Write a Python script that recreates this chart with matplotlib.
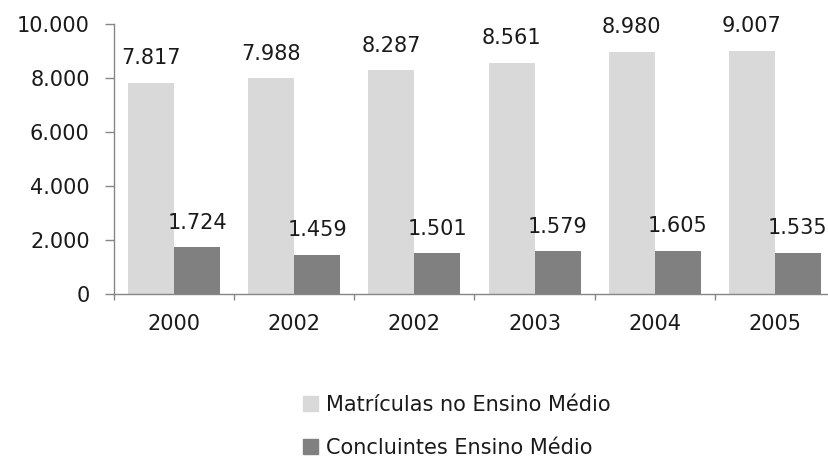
import matplotlib
matplotlib.use("Agg")
import matplotlib.pyplot as plt
import numpy as np
from matplotlib.patches import Patch

years = ["2000", "2002", "2002", "2003", "2004", "2005"]
matriculas = [7817, 7988, 8287, 8561, 8980, 9007]
concluintes = [1724, 1459, 1501, 1579, 1605, 1535]
series_names = ["Matrículas no Ensino Médio", "Concluintes Ensino Médio"]
y_ticks = [0, 2000, 4000, 6000, 8000, 10000]

LIGHT = "#D9D9D9"
DARK = "#808080"
AXIS = "#868686"
TEXT = "#1a1a1a"
FS = 15

def fmt(v):
    return f"{v:,}".replace(",", ".")

plt.rcParams["font.family"] = ["DejaVu Sans"]

W, H = 829, 459
fig = plt.figure(figsize=(W / 100, H / 100), dpi=100)
left, right, top, bottom = 114, 835, 24, 294
ax = fig.add_axes([left / W, (H - bottom) / H, (right - left) / W, (bottom - top) / H])

x = np.arange(len(years))
bw = 0.383
b1 = ax.bar(x - bw / 2, matriculas, bw, color=LIGHT)
b2 = ax.bar(x + bw / 2, concluintes, bw, color=DARK)

for bars, vals in ((b1, matriculas), (b2, concluintes)):
    for rect, v in zip(bars, vals):
        ax.annotate(fmt(v), (rect.get_x() + rect.get_width() / 2, v),
                    xytext=(0, 13.5), textcoords="offset points",
                    ha="center", va="baseline", fontsize=FS, color=TEXT)

ax.set_xlim(-0.5, len(years) - 0.5)
ax.set_ylim(0, 10000)
ax.set_yticks(y_ticks)
ax.set_yticklabels([fmt(v) for v in y_ticks])
ax.set_xticks(x)
ax.set_xticklabels(years)
ax.set_xticks(np.arange(-0.5, len(years) + 0.5, 1), minor=True)

for s in ("top", "right"):
    ax.spines[s].set_visible(False)
for s in ("left", "bottom"):
    ax.spines[s].set_color(AXIS)
    ax.spines[s].set_linewidth(1.0)

ax.tick_params(axis="y", length=6.5, width=1, color=AXIS, pad=11, labelsize=FS, labelcolor=TEXT)
ax.tick_params(axis="x", which="major", length=0, pad=14.5, labelsize=FS, labelcolor=TEXT)
ax.tick_params(axis="x", which="minor", length=4.5, width=1, color=AXIS)

handles = [Patch(color=LIGHT), Patch(color=DARK)]
fig.legend(handles, series_names, loc="upper left", bbox_to_anchor=(303 / W, 1 - 395 / H),
           frameon=False, fontsize=FS, handlelength=0.7, handleheight=0.7,
           handletextpad=0.4, labelspacing=1.1, borderpad=0, borderaxespad=0,
           labelcolor=TEXT)

fig.savefig("out.png", dpi=100)
